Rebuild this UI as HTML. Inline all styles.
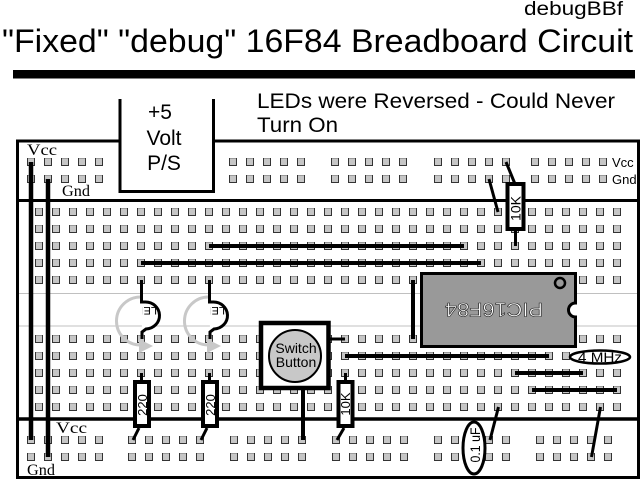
<!DOCTYPE html>
<html>
<head>
<meta charset="utf-8">
<style>
html,body{margin:0;padding:0;background:#fff;overflow:hidden;}
svg{display:block;}
</style>
</head>
<body>
<svg width="640" height="480" viewBox="0 0 640 480" xmlns="http://www.w3.org/2000/svg" font-family="'Liberation Sans', Arial, sans-serif">
<defs>
  <pattern id="pr" x="0" y="0" width="17" height="17" patternUnits="userSpaceOnUse">
    <rect x="0" y="0" width="8" height="8" fill="#c6c6c6"/>
    <path d="M0.5,0V7.5H7.5V0" fill="none" stroke="#333" stroke-width="1"/>
    <path d="M1,0.5H7" fill="none" stroke="#9a9a9a" stroke-width="1"/>
  </pattern>
  <clipPath id="c1"><rect x="142.5" y="300" width="20" height="30"/></clipPath>
  <clipPath id="c2"><rect x="210.5" y="300" width="20" height="30"/></clipPath>
</defs>

<rect width="640" height="480" fill="#fff"/>

<!-- Title area -->
<text x="524" y="15" font-size="19" textLength="99" lengthAdjust="spacingAndGlyphs">debugBBf</text>
<text x="2" y="52" font-size="32" textLength="631" lengthAdjust="spacingAndGlyphs">"Fixed" "debug" 16F84 Breadboard Circuit</text>
<rect x="13" y="70" width="622" height="8.5" fill="#000"/>

<text x="257" y="108" font-size="21" textLength="358" lengthAdjust="spacingAndGlyphs">LEDs were Reversed - Could Never</text>
<text x="257" y="132" font-size="21" textLength="81" lengthAdjust="spacingAndGlyphs">Turn On</text>

<!-- channel lines -->
<line x1="17" y1="293.5" x2="638" y2="293.5" stroke="#c0c0c0" stroke-width="1"/>
<line x1="17" y1="326" x2="638" y2="326" stroke="#c0c0c0" stroke-width="1"/>

<!-- breadboard frame -->
<rect x="17.5" y="141" width="621" height="336.5" fill="none" stroke="#000" stroke-width="3"/>
<line x1="17" y1="200.5" x2="639" y2="200.5" stroke="#000" stroke-width="3"/>
<line x1="17" y1="419" x2="639" y2="419" stroke="#000" stroke-width="3.5"/>

<!-- main grid holes -->
<g transform="translate(35,208)"><rect x="0" y="0" width="595" height="85" fill="url(#pr)"/></g>
<g transform="translate(35,335)"><rect x="0" y="0" width="595" height="85" fill="url(#pr)"/></g>

<!-- top rail holes (rows 162 / 179) -->
<g transform="translate(27,158)"><rect width="85" height="25" fill="url(#pr)"/></g>
<g transform="translate(229,158)"><rect width="85" height="25" fill="url(#pr)"/></g>
<g transform="translate(331,158)"><rect width="85" height="25" fill="url(#pr)"/></g>
<g transform="translate(434,158)"><rect width="85" height="25" fill="url(#pr)"/></g>
<g transform="translate(531,158)"><rect width="85" height="25" fill="url(#pr)"/></g>

<!-- bottom rail holes (rows 440 / 457) -->
<g transform="translate(27,436)"><rect width="85" height="25" fill="url(#pr)"/></g>
<g transform="translate(128,436)"><rect width="85" height="25" fill="url(#pr)"/></g>
<g transform="translate(230,436)"><rect width="85" height="25" fill="url(#pr)"/></g>
<g transform="translate(332,436)"><rect width="85" height="25" fill="url(#pr)"/></g>
<g transform="translate(434,436)"><rect width="85" height="25" fill="url(#pr)"/></g>
<g transform="translate(536,436)"><rect width="85" height="25" fill="url(#pr)"/></g>

<!-- Power supply box -->
<path d="M120,99 V191.5 H213.5 V99" fill="#fff" stroke="#000" stroke-width="3"/>
<text x="160" y="119" font-size="21" text-anchor="middle">+5</text>
<text x="164" y="145" font-size="21" text-anchor="middle">Volt</text>
<text x="164" y="170" font-size="21" text-anchor="middle">P/S</text>

<!-- rail labels -->
<g font-family="'Liberation Serif', 'Times New Roman', serif" font-size="16">
  <text x="27" y="155" textLength="30" lengthAdjust="spacingAndGlyphs">Vcc</text>
  <text x="62" y="196" textLength="28" lengthAdjust="spacingAndGlyphs">Gnd</text>
  <text x="56" y="433" textLength="31" lengthAdjust="spacingAndGlyphs">Vcc</text>
  <text x="27" y="475" textLength="28" lengthAdjust="spacingAndGlyphs">Gnd</text>
</g>
<text x="612" y="167" font-size="13">Vcc</text>
<text x="612" y="184" font-size="13">Gnd</text>

<!-- power rail wires -->
<g stroke="#000" stroke-width="4.5" fill="none">
  <line x1="31" y1="162" x2="31" y2="440"/>
  <line x1="48" y1="179" x2="48" y2="457"/>
</g>

<!-- main wires -->
<g stroke="#000" stroke-width="4" fill="none">
  <line x1="209" y1="246" x2="464" y2="246"/>
  <line x1="141" y1="263" x2="481" y2="263"/>
  <line x1="413" y1="280" x2="413" y2="339"/>
  <line x1="345" y1="356" x2="549" y2="356"/>
  <line x1="515" y1="373" x2="583" y2="373"/>
  <line x1="532" y1="390" x2="617" y2="390"/>
</g>
<g stroke="#000" stroke-width="3" fill="none">
  <line x1="328" y1="339" x2="345" y2="339"/>
  <line x1="506" y1="162" x2="515" y2="184"/>
  <line x1="489" y1="179" x2="498" y2="212"/>
  <line x1="515.5" y1="229" x2="515.5" y2="246"/>
  <line x1="498.5" y1="407" x2="490" y2="440"/>
  <line x1="600.5" y1="407" x2="591.5" y2="457"/>
  <line x1="141.5" y1="373" x2="141.5" y2="382"/>
  <line x1="139" y1="428" x2="133" y2="440"/>
  <line x1="209.5" y1="373" x2="209.5" y2="382"/>
  <line x1="207" y1="428" x2="201" y2="440"/>
  <line x1="345.5" y1="373" x2="345.5" y2="382"/>
  <line x1="344" y1="428" x2="337" y2="440"/>
</g>
<line x1="303" y1="388" x2="303" y2="440" stroke="#000" stroke-width="4"/>

<!-- top 10K resistor -->
<rect x="507.5" y="184" width="16" height="45" fill="#fff" stroke="#000" stroke-width="4"/>
<text transform="translate(520.5,208.5) rotate(-90)" font-size="14" text-anchor="middle">10K</text>

<!-- 220 resistors -->
<rect x="135" y="382" width="14" height="44" fill="#fff" stroke="#000" stroke-width="4"/>
<text transform="translate(147,405) rotate(-90)" font-size="13" text-anchor="middle">220</text>
<rect x="203" y="382" width="14" height="44" fill="#fff" stroke="#000" stroke-width="4"/>
<text transform="translate(215,405) rotate(-90)" font-size="13" text-anchor="middle">220</text>

<!-- lower 10K -->
<rect x="338.5" y="382" width="14" height="44" fill="#fff" stroke="#000" stroke-width="4"/>
<text transform="translate(350,404) rotate(-90)" font-size="13" text-anchor="middle">10K</text>

<!-- LED 1 -->
<path d="M141,297 A24,24 0 0 0 140,345" fill="none" stroke="#c8c8c8" stroke-width="3"/>
<polygon points="139,339 139,353 153,346" fill="#c8c8c8"/>
<path d="M141.5,280 V302 H145 A14,13.5 0 0 1 146,329 L142,332 V339" fill="#fff" stroke="#000" stroke-width="3"/>
<g clip-path="url(#c1)"><text transform="translate(157,307) rotate(180)" font-size="11">LED</text></g>

<!-- LED 2 -->
<path d="M209,297 A24,24 0 0 0 208,345" fill="none" stroke="#c8c8c8" stroke-width="3"/>
<polygon points="207,339 207,353 221,346" fill="#c8c8c8"/>
<path d="M209.5,280 V302 H213 A14,13.5 0 0 1 214,329 L210,332 V339" fill="#fff" stroke="#000" stroke-width="3"/>
<g clip-path="url(#c2)"><text transform="translate(225,307) rotate(180)" font-size="11">LED</text></g>

<!-- Switch -->
<rect x="261" y="323" width="67.5" height="65" fill="#fff" stroke="#000" stroke-width="4.5"/>
<circle cx="295" cy="356" r="26" fill="#c8c8c8" stroke="#000" stroke-width="2"/>
<text x="296" y="353" font-size="14" text-anchor="middle">Switch</text>
<text x="296" y="367" font-size="14" text-anchor="middle">Button</text>

<!-- PIC chip -->
<path d="M421.5,273.5 H575.5 V303 A7,7 0 0 0 575.5,317 V346.5 H421.5 Z" fill="#999" stroke="#000" stroke-width="3"/>
<circle cx="560" cy="283" r="5" fill="none" stroke="#000" stroke-width="2.5"/>
<text transform="translate(494,303) rotate(180)" font-size="19" text-anchor="middle" fill="#fff" stroke="#222" stroke-width="0.6" textLength="98" lengthAdjust="spacingAndGlyphs">PIC16F84</text>

<!-- 4 MHz crystal -->
<ellipse cx="600" cy="357" rx="30" ry="6.5" fill="#fff" stroke="#000" stroke-width="2.5"/>
<text x="600" y="362" font-size="14" text-anchor="middle" textLength="44" lengthAdjust="spacingAndGlyphs">4 MHz</text>

<!-- 0.1 uF cap -->
<ellipse cx="474" cy="448" rx="11" ry="26" fill="#fff" stroke="#000" stroke-width="3"/>
<text transform="translate(480,445) rotate(-90)" font-size="14" text-anchor="middle" textLength="35" lengthAdjust="spacingAndGlyphs">0.1 uF</text>

</svg>
</body>
</html>
